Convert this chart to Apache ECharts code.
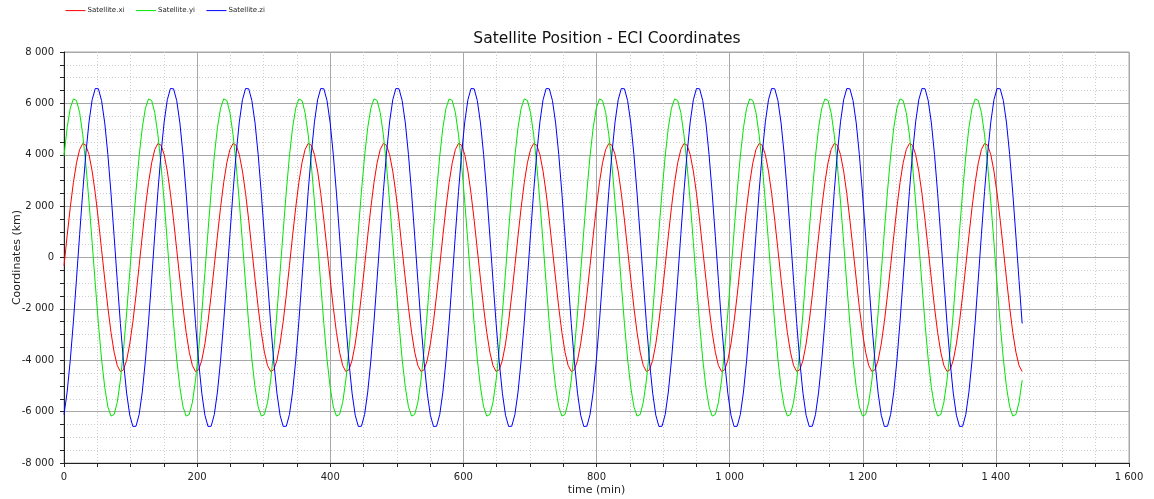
<!DOCTYPE html>
<html>
<head>
<meta charset="utf-8">
<title>Satellite Position - ECI Coordinates</title>
<script src="https://cdn.jsdelivr.net/npm/echarts@6/dist/echarts.min.js"></script>
<style>
  html, body { margin: 0; padding: 0; background: #fff; }
  #chart { width: 1154px; height: 499px; }
</style>
</head>
<body>
<div id="chart"></div>
<script>
  // time samples (min)
  let time = [
    0, 4.7, 9.4, 14.1, 18.8, 23.5, 28.2, 32.9, 37.6, 42.3, 47.0, 51.7, 56.4, 61.2, 65.9, 70.6, 75.3, 80.0, 84.7, 89.4, 94.1, 98.8, 103.5, 108.2,
    112.9, 117.6, 122.3, 127.0, 131.7, 136.4, 141.1, 145.8, 150.5, 155.2, 159.9, 164.6, 169.3, 174.1, 178.8, 183.5, 188.2, 192.9, 197.6, 202.3, 207.0, 211.7, 216.4, 221.1,
    225.8, 230.5, 235.2, 239.9, 244.6, 249.3, 254.0, 258.7, 263.4, 268.1, 272.8, 277.5, 282.2, 287.0, 291.7, 296.4, 301.1, 305.8, 310.5, 315.2, 319.9, 324.6, 329.3, 334.0,
    338.7, 343.4, 348.1, 352.8, 357.5, 362.2, 366.9, 371.6, 376.3, 381.0, 385.7, 390.4, 395.1, 399.9, 404.6, 409.3, 414.0, 418.7, 423.4, 428.1, 432.8, 437.5, 442.2, 446.9,
    451.6, 456.3, 461.0, 465.7, 470.4, 475.1, 479.8, 484.5, 489.2, 493.9, 498.6, 503.3, 508.0, 512.8, 517.5, 522.2, 526.9, 531.6, 536.3, 541.0, 545.7, 550.4, 555.1, 559.8,
    564.5, 569.2, 573.9, 578.6, 583.3, 588.0, 592.7, 597.4, 602.1, 606.8, 611.5, 616.2, 620.9, 625.7, 630.4, 635.1, 639.8, 644.5, 649.2, 653.9, 658.6, 663.3, 668.0, 672.7,
    677.4, 682.1, 686.8, 691.5, 696.2, 700.9, 705.6, 710.3, 715.0, 719.7, 724.4, 729.1, 733.8, 738.6, 743.3, 748.0, 752.7, 757.4, 762.1, 766.8, 771.5, 776.2, 780.9, 785.6,
    790.3, 795.0, 799.7, 804.4, 809.1, 813.8, 818.5, 823.2, 827.9, 832.6, 837.3, 842.0, 846.7, 851.5, 856.2, 860.9, 865.6, 870.3, 875.0, 879.7, 884.4, 889.1, 893.8, 898.5,
    903.2, 907.9, 912.6, 917.3, 922.0, 926.7, 931.4, 936.1, 940.8, 945.5, 950.2, 954.9, 959.6, 964.4, 969.1, 973.8, 978.5, 983.2, 987.9, 992.6, 997.3, 1002.0, 1006.7, 1011.4,
    1016.1, 1020.8, 1025.5, 1030.2, 1034.9, 1039.6, 1044.3, 1049.0, 1053.7, 1058.4, 1063.1, 1067.8, 1072.5, 1077.3, 1082.0, 1086.7, 1091.4, 1096.1, 1100.8, 1105.5, 1110.2, 1114.9, 1119.6, 1124.3,
    1129.0, 1133.7, 1138.4, 1143.1, 1147.8, 1152.5, 1157.2, 1161.9, 1166.6, 1171.3, 1176.0, 1180.7, 1185.4, 1190.2, 1194.9, 1199.6, 1204.3, 1209.0, 1213.7, 1218.4, 1223.1, 1227.8, 1232.5, 1237.2,
    1241.9, 1246.6, 1251.3, 1256.0, 1260.7, 1265.4, 1270.1, 1274.8, 1279.5, 1284.2, 1288.9, 1293.6, 1298.3, 1303.1, 1307.8, 1312.5, 1317.2, 1321.9, 1326.6, 1331.3, 1336.0, 1340.7, 1345.4, 1350.1,
    1354.8, 1359.5, 1364.2, 1368.9, 1373.6, 1378.3, 1383.0, 1387.7, 1392.4, 1397.1, 1401.8, 1406.5, 1411.2, 1416.0, 1420.7, 1425.4, 1430.1, 1434.8, 1439.5
  ];

  // Satellite.xi (km)
  let xi = [
    -318, 841, 1944, 2914, 3685, 4205, 4439, 4370, 4003, 3363, 2495, 1456, 318, -841, -1944, -2914, -3685, -4205, -4439, -4370, -4003, -3363, -2495, -1456,
    -318, 841, 1944, 2914, 3685, 4205, 4439, 4370, 4003, 3363, 2495, 1456, 318, -841, -1944, -2914, -3685, -4205, -4439, -4370, -4003, -3363, -2495, -1456,
    -318, 841, 1944, 2914, 3685, 4205, 4439, 4370, 4003, 3363, 2495, 1456, 318, -841, -1944, -2914, -3685, -4205, -4439, -4370, -4003, -3363, -2495, -1456,
    -318, 841, 1944, 2914, 3685, 4205, 4439, 4370, 4003, 3363, 2495, 1456, 318, -841, -1944, -2914, -3685, -4205, -4439, -4370, -4003, -3363, -2495, -1456,
    -318, 841, 1944, 2914, 3685, 4205, 4439, 4370, 4003, 3363, 2495, 1456, 318, -841, -1944, -2914, -3685, -4205, -4439, -4370, -4003, -3363, -2495, -1456,
    -318, 841, 1944, 2914, 3685, 4205, 4439, 4370, 4003, 3363, 2495, 1456, 318, -841, -1944, -2914, -3685, -4205, -4439, -4370, -4003, -3363, -2495, -1456,
    -318, 841, 1944, 2914, 3685, 4205, 4439, 4370, 4003, 3363, 2495, 1456, 318, -841, -1944, -2914, -3685, -4205, -4439, -4370, -4003, -3363, -2495, -1456,
    -318, 841, 1944, 2914, 3685, 4205, 4439, 4370, 4003, 3363, 2495, 1456, 318, -841, -1944, -2914, -3685, -4205, -4439, -4370, -4003, -3363, -2495, -1456,
    -318, 841, 1944, 2914, 3685, 4205, 4439, 4370, 4003, 3363, 2495, 1456, 318, -841, -1944, -2914, -3685, -4205, -4439, -4370, -4003, -3363, -2495, -1456,
    -318, 841, 1944, 2914, 3685, 4205, 4439, 4370, 4003, 3363, 2495, 1456, 318, -841, -1944, -2914, -3685, -4205, -4439, -4370, -4003, -3363, -2495, -1456,
    -318, 841, 1944, 2914, 3685, 4205, 4439, 4370, 4003, 3363, 2495, 1456, 318, -841, -1944, -2914, -3685, -4205, -4439, -4370, -4003, -3363, -2495, -1456,
    -318, 841, 1944, 2914, 3685, 4205, 4439, 4370, 4003, 3363, 2495, 1456, 318, -841, -1944, -2914, -3685, -4205, -4439, -4370, -4003, -3363, -2495, -1456,
    -318, 841, 1944, 2914, 3685, 4205, 4439, 4370, 4003, 3363, 2495, 1456, 318, -841, -1944, -2914, -3685, -4205, -4439
  ];

  // Satellite.yi (km)
  let yi = [
    3952, 5054, 5811, 6173, 6113, 5638, 4777, 3592, 2161, 583, -1034, -2581, -3952, -5054, -5811, -6173, -6113, -5638, -4777, -3592, -2161, -583, 1034, 2581,
    3952, 5054, 5811, 6173, 6113, 5638, 4777, 3592, 2161, 583, -1034, -2581, -3952, -5054, -5811, -6173, -6113, -5638, -4777, -3592, -2161, -583, 1034, 2581,
    3952, 5054, 5811, 6173, 6113, 5638, 4777, 3592, 2161, 583, -1034, -2581, -3952, -5054, -5811, -6173, -6113, -5638, -4777, -3592, -2161, -583, 1034, 2581,
    3952, 5054, 5811, 6173, 6113, 5638, 4777, 3592, 2161, 583, -1034, -2581, -3952, -5054, -5811, -6173, -6113, -5638, -4777, -3592, -2161, -583, 1034, 2581,
    3952, 5054, 5811, 6173, 6113, 5638, 4777, 3592, 2161, 583, -1034, -2581, -3952, -5054, -5811, -6173, -6113, -5638, -4777, -3592, -2161, -583, 1034, 2581,
    3952, 5054, 5811, 6173, 6113, 5638, 4777, 3592, 2161, 583, -1034, -2581, -3952, -5054, -5811, -6173, -6113, -5638, -4777, -3592, -2161, -583, 1034, 2581,
    3952, 5054, 5811, 6173, 6113, 5638, 4777, 3592, 2161, 583, -1034, -2581, -3952, -5054, -5811, -6173, -6113, -5638, -4777, -3592, -2161, -583, 1034, 2581,
    3952, 5054, 5811, 6173, 6113, 5638, 4777, 3592, 2161, 583, -1034, -2581, -3952, -5054, -5811, -6173, -6113, -5638, -4777, -3592, -2161, -583, 1034, 2581,
    3952, 5054, 5811, 6173, 6113, 5638, 4777, 3592, 2161, 583, -1034, -2581, -3952, -5054, -5811, -6173, -6113, -5638, -4777, -3592, -2161, -583, 1034, 2581,
    3952, 5054, 5811, 6173, 6113, 5638, 4777, 3592, 2161, 583, -1034, -2581, -3952, -5054, -5811, -6173, -6113, -5638, -4777, -3592, -2161, -583, 1034, 2581,
    3952, 5054, 5811, 6173, 6113, 5638, 4777, 3592, 2161, 583, -1034, -2581, -3952, -5054, -5811, -6173, -6113, -5638, -4777, -3592, -2161, -583, 1034, 2581,
    3952, 5054, 5811, 6173, 6113, 5638, 4777, 3592, 2161, 583, -1034, -2581, -3952, -5054, -5811, -6173, -6113, -5638, -4777, -3592, -2161, -583, 1034, 2581,
    3952, 5054, 5811, 6173, 6113, 5638, 4777, 3592, 2161, 583, -1034, -2581, -3952, -5054, -5811, -6173, -6113, -5638, -4777
  ];

  // Satellite.zi (km)
  let zi = [
    -6112, -5239, -4008, -2505, -831, 900, 2569, 4064, 5281, 6139, 6578, 6568, 6112, 5239, 4008, 2505, 831, -900, -2569, -4064, -5281, -6139, -6578, -6568,
    -6112, -5239, -4008, -2505, -831, 900, 2569, 4064, 5281, 6139, 6578, 6568, 6112, 5239, 4008, 2505, 831, -900, -2569, -4064, -5281, -6139, -6578, -6568,
    -6112, -5239, -4008, -2505, -831, 900, 2569, 4064, 5281, 6139, 6578, 6568, 6112, 5239, 4008, 2505, 831, -900, -2569, -4064, -5281, -6139, -6578, -6568,
    -6112, -5239, -4008, -2505, -831, 900, 2569, 4064, 5281, 6139, 6578, 6568, 6112, 5239, 4008, 2505, 831, -900, -2569, -4064, -5281, -6139, -6578, -6568,
    -6112, -5239, -4008, -2505, -831, 900, 2569, 4064, 5281, 6139, 6578, 6568, 6112, 5239, 4008, 2505, 831, -900, -2569, -4064, -5281, -6139, -6578, -6568,
    -6112, -5239, -4008, -2505, -831, 900, 2569, 4064, 5281, 6139, 6578, 6568, 6112, 5239, 4008, 2505, 831, -900, -2569, -4064, -5281, -6139, -6578, -6568,
    -6112, -5239, -4008, -2505, -831, 900, 2569, 4064, 5281, 6139, 6578, 6568, 6112, 5239, 4008, 2505, 831, -900, -2569, -4064, -5281, -6139, -6578, -6568,
    -6112, -5239, -4008, -2505, -831, 900, 2569, 4064, 5281, 6139, 6578, 6568, 6112, 5239, 4008, 2505, 831, -900, -2569, -4064, -5281, -6139, -6578, -6568,
    -6112, -5239, -4008, -2505, -831, 900, 2569, 4064, 5281, 6139, 6578, 6568, 6112, 5239, 4008, 2505, 831, -900, -2569, -4064, -5281, -6139, -6578, -6568,
    -6112, -5239, -4008, -2505, -831, 900, 2569, 4064, 5281, 6139, 6578, 6568, 6112, 5239, 4008, 2505, 831, -900, -2569, -4064, -5281, -6139, -6578, -6568,
    -6112, -5239, -4008, -2505, -831, 900, 2569, 4064, 5281, 6139, 6578, 6568, 6112, 5239, 4008, 2505, 831, -900, -2569, -4064, -5281, -6139, -6578, -6568,
    -6112, -5239, -4008, -2505, -831, 900, 2569, 4064, 5281, 6139, 6578, 6568, 6112, 5239, 4008, 2505, 831, -900, -2569, -4064, -5281, -6139, -6578, -6568,
    -6112, -5239, -4008, -2505, -831, 900, 2569, 4064, 5281, 6139, 6578, 6568, 6112, 5239, 4008, 2505, 831, -900, -2569
  ];

  let seriesNames = ['Satellite.xi', 'Satellite.yi', 'Satellite.zi'];
  let seriesColors = ['#ff0000', '#00e600', '#0000ff'];

  function pairs (ys) {
    let out = [];
    for (let i = 0; i < time.length; i++) {
      out.push([time[i], ys[i]]);
    }
    return out;
  }

  // 8000 -> "8 000"
  function spaced (v) {
    return String(v).replace(/\B(?=(\d{3})+(?!\d))/g, ' ');
  }

  let font = 'DejaVu Sans';
  let myChart = echarts.init(document.getElementById('chart'), null, {renderer: 'canvas'});

  let axisCommon = {
    type: 'value',
    nameMoveOverlap: false,
    axisLine: {show: true, onZero: false, lineStyle: {color: '#222', width: 1}},
    axisTick: {show: true, inside: false, length: 4, lineStyle: {color: '#222'}},
    minorTick: {show: true, splitNumber: 4, length: 4, lineStyle: {color: '#222'}},
    splitLine: {show: true, lineStyle: {color: '#a8a8a8', width: 1, type: 'solid'}},
    minorSplitLine: {show: true, lineStyle: {color: '#cdcdcd', width: 1, type: [1, 2]}},
    nameTextStyle: {color: '#222', fontFamily: font, fontSize: 11},
    axisLabel: {color: '#222', fontFamily: font, fontSize: 10, formatter: spaced}
  };

  myChart.setOption({
    animation: false,
    backgroundColor: '#fff',
    color: seriesColors,
    title: {
      text: 'Satellite Position - ECI Coordinates',
      left: 602,
      textAlign: 'center',
      top: 26,
      textStyle: {color: '#111', fontFamily: font, fontSize: 15.5, fontWeight: 'normal'}
    },
    legend: {
      data: seriesNames,
      left: 60,
      top: 2,
      itemWidth: 20,
      itemHeight: 9,
      itemGap: 11,
      itemStyle: {opacity: 0},
      lineStyle: {width: 1},
      textStyle: {color: '#222', fontFamily: font, fontSize: 7, padding: [0, 0, 0, -3]}
    },
    grid: {
      left: 64,
      right: 25,
      top: 52,
      bottom: 36,
      outerBoundsMode: 'none',
      containLabel: false,
      show: true,
      borderColor: '#a8a8a8',
      borderWidth: 1
    },
    xAxis: Object.assign({}, axisCommon, {
      min: 0,
      max: 1600,
      interval: 200,
      name: 'time (min)',
      nameLocation: 'middle',
      nameGap: 22,
      axisLabel: Object.assign({}, axisCommon.axisLabel, {margin: 9})
    }),
    yAxis: Object.assign({}, axisCommon, {
      min: -8000,
      max: 8000,
      interval: 2000,
      name: 'Coordinates (km)',
      nameLocation: 'middle',
      nameGap: 41,
      axisLabel: Object.assign({}, axisCommon.axisLabel, {margin: 10})
    }),
    series: seriesNames.map(function (name, i) {
      return {
        name: name,
        type: 'line',
        data: pairs([xi, yi, zi][i]),
        symbol: 'none',
        showSymbol: false,
        smooth: false,
        itemStyle: {color: seriesColors[i]},
        lineStyle: {width: 1, color: seriesColors[i]}
      };
    })
  });
</script>
</body>
</html>
